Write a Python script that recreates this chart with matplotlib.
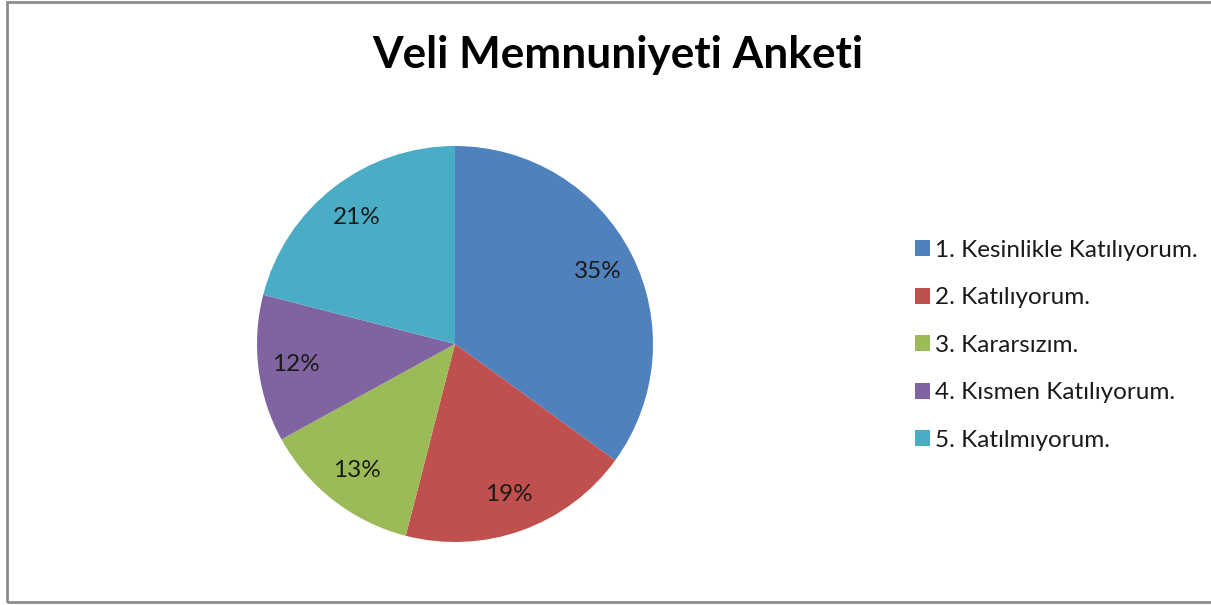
import matplotlib.pyplot as plt
from matplotlib.patches import Rectangle

# Veri
kategoriler = ['1. Kesinlikle Katılıyorum.', '2. Katılıyorum.', '3. Kararsızım.',
               '4. Kısmen Katılıyorum.', '5. Katılmıyorum.']
degerler = [35, 19, 13, 12, 21]
renkler = ['#4F81BD', '#C0504D', '#9BBB59', '#8064A2', '#4BACC6']

plt.rcParams['font.family'] = ['Lato', 'DejaVu Sans']

fig = plt.figure(figsize=(12.11, 6.05), dpi=100)

# Dış çerçeve
fig.patches.append(Rectangle((7 / 1211, 3 / 605), 1.1, 600 / 605,
                             transform=fig.transFigure, fill=False,
                             edgecolor='#8c8c8c', linewidth=2))

ax = fig.add_axes([257 / 1211, 63 / 605, 396 / 1211, 396 / 605])
wedges, texts, autotexts = ax.pie(degerler, colors=renkler, startangle=90, counterclock=False,
                                  autopct='%1.0f%%', pctdistance=0.81, radius=1,
                                  wedgeprops=dict(linewidth=0))
for t in autotexts:
    t.set_fontsize(17.5)
    t.set_color('#1a1a1a')
ax.set_xlim(-1, 1)
ax.set_ylim(-1, 1)
ax.set_aspect('equal')

fig.text(618 / 1211, 1 - 55 / 605, 'Veli Memnuniyeti Anketi', ha='center', va='center',
         fontsize=31.8, fontweight='bold')

leg = fig.legend(wedges, kategoriler, loc='upper left',
                 bbox_to_anchor=(905 / 1211, 1 - 230 / 605), frameon=False,
                 fontsize=17.5, handlelength=0.62, handleheight=0.62, handletextpad=0.2,
                 labelspacing=1.09, borderaxespad=0)
for t in leg.get_texts():
    t.set_color('#1a1a1a')

fig.savefig('out.png', dpi=100)
